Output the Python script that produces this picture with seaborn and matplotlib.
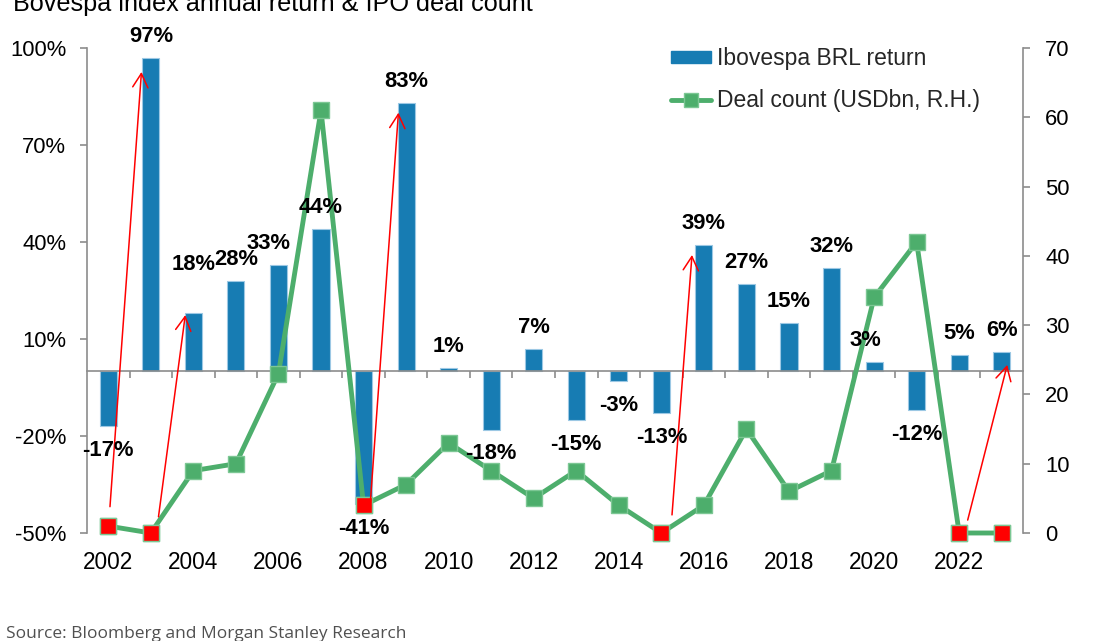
import numpy as np
import pandas as pd
import matplotlib
matplotlib.use("Agg")
import matplotlib.pyplot as plt
from matplotlib.patches import Patch
from matplotlib.lines import Line2D
import seaborn as sns

# ---------------- data ----------------
years = list(range(2002, 2024))
returns = [-17, 97, 18, 28, 33, 44, -41, 83, 1, -18, 7, -15, -3, -13, 39, 27, 15, 32, 3, -12, 5, 6]
deals = [1, 0, 9, 10, 23, 61, 4, 7, 13, 9, 5, 9, 4, 0, 4, 15, 6, 9, 34, 42, 0, 0]
highlight_years = [2002, 2003, 2008, 2015, 2022, 2023]
arrow_pairs = [(2002, 2003), (2003, 2004), (2008, 2009), (2015, 2016), (2022, 2023)]
title = "Bovespa index annual return & IPO deal count"
source = "Source: Bloomberg and Morgan Stanley Research"
bar_label_name = "Ibovespa BRL return"
line_label_name = "Deal count (USDbn, R.H.)"

# ---------------- style ----------------
sns.set_theme(style="white")
plt.rcParams["font.family"] = ["Liberation Sans", "DejaVu Sans"]

BLUE = "#177cb3"
GREEN = "#4dae6c"
RED = "#ff0000"
GREY = "#8c8c8c"

n = len(years)
idx = np.arange(n)
df = pd.DataFrame({"year": [str(y) for y in years], "ret": returns, "deal": deals})

fig = plt.figure(figsize=(10.94, 6.41), dpi=100)
ax = fig.add_axes([87 / 1094, 1 - 533 / 641, (1023 - 87) / 1094, (533 - 48) / 641])

sns.barplot(data=df, x="year", y="ret", ax=ax, width=0.4, color=BLUE,
            saturation=1, edgecolor="#9cc8e4", linewidth=0.8)
ax.set_xlim(-0.5, n - 0.5)
ax.set_ylim(-50, 100)
ax.set_yticks([-50, -20, 10, 40, 70, 100])
ax.set_yticklabels([f"{v}%" for v in [-50, -20, 10, 40, 70, 100]])
ax.set_xlabel("")
ax.set_ylabel("")

# zero-line spine with boundary ticks
for s in ["top", "right"]:
    ax.spines[s].set_visible(False)
ax.spines["bottom"].set_position(("data", 0))
ax.spines["bottom"].set_color(GREY)
ax.spines["bottom"].set_linewidth(1.2)
ax.spines["left"].set_color(GREY)
ax.spines["left"].set_linewidth(1.2)
ax.set_xticks(np.arange(0.5, n - 1, 1))
ax.set_xticklabels([])
ax.tick_params(axis="x", direction="out", length=5, width=1.2, color=GREY, bottom=True)
ax.tick_params(axis="y", direction="out", length=5, width=1.2, color=GREY, left=True,
               labelsize=15.8, pad=10, labelcolor="black")

sec = ax.secondary_xaxis("bottom")
sec.set_xticks(idx[::2])
sec.set_xticklabels([str(y) for y in years[::2]])
sec.tick_params(length=0, pad=13, labelsize=16.3, labelcolor="black")
sec.spines["bottom"].set_visible(False)

# right axis: deal count
ax2 = ax.twinx()
sns.lineplot(x=idx, y=deals, ax=ax2, color=GREEN, linewidth=3.5, marker="s",
             markersize=11, markeredgecolor="#7cc794", markeredgewidth=1, sort=False)
hl_idx = [years.index(y) for y in highlight_years]
sns.scatterplot(x=hl_idx, y=[deals[i] for i in hl_idx], ax=ax2, marker="s", s=130,
                color=RED, edgecolor="#7cc794", linewidth=1, zorder=5)
for art in ax2.lines + ax2.collections:
    art.set_clip_on(False)
ax2.set_ylim(0, 70)
ax2.set_yticks(range(0, 71, 10))
ax2.set_ylabel("")
for s in ["top", "left", "bottom"]:
    ax2.spines[s].set_visible(False)
ax2.spines["right"].set_color(GREY)
ax2.spines["right"].set_linewidth(1.2)
ax2.tick_params(axis="y", direction="out", length=5, width=1.2, color=GREY, right=True,
                labelsize=15.8, pad=11, labelcolor="black")
ax2.grid(False)
ax.grid(False)

# data labels
label_dx = {2006: -7, 2020: -6}
label_dy_override = {2004: 35}
for i, (y, r) in enumerate(zip(years, returns)):
    dy = label_dy_override.get(y, 15.5 if r >= 0 else -17.5)
    ax2.annotate(f"{r}%", xy=(i, r), xycoords=ax.transData,
                 xytext=(label_dx.get(y, 0), dy), textcoords="offset points",
                 ha="center", va="center", fontsize=15.8, fontweight="bold",
                 color="black", zorder=10)

# arrows from red deal markers to next bar tops
def deal_to_left(v):
    return -50 + v * 150 / 70

start_off = [(0.04, 6), (0.18, 5), (0.16, 1), (0.25, 5.6), (0.2, 4)]
tip_off = [(-0.22, -4.4), (-0.19, -0.6), (-0.18, -3), (-0.28, -3), (0.13, -4)]
for (a, b), (sdx, sdy), (tdx, tdy) in zip(arrow_pairs, start_off, tip_off):
    ia, ib = years.index(a), years.index(b)
    start = (ia + sdx, deal_to_left(deals[ia]) + sdy)
    tip = (ib + tdx, returns[ib] + tdy)
    ax2.annotate("", xy=tip, xycoords=ax.transData, xytext=start, textcoords=ax.transData,
                 arrowprops=dict(arrowstyle="->,head_length=1.0,head_width=0.55",
                                 mutation_scale=10, color=RED, lw=1.1,
                                 shrinkA=0, shrinkB=0), zorder=8)

# legend
handles = [Patch(facecolor=BLUE, edgecolor=BLUE),
           Line2D([0], [0], color=GREEN, lw=3.5, marker="s", markersize=10,
                  markeredgecolor="#7cc794")]
fig.legend(handles, [bar_label_name, line_label_name], loc="upper left",
           bbox_to_anchor=(671 / 1094, 1 - 47 / 641), frameon=False, fontsize=16.5,
           handlelength=1.75, handleheight=0.45, handletextpad=0.25, labelspacing=0.82,
           borderpad=0, borderaxespad=0)

fig.text(13 / 1094, 1 - 11 / 641, title, fontsize=18.2, ha="left", va="baseline", color="black")
fig.text(6 / 1094, 1 - 638 / 641, source, fontsize=12.5, ha="left", va="baseline",
         color="#505050", family=["Open Sans", "DejaVu Sans"])

fig.savefig("out.png", dpi=100)
